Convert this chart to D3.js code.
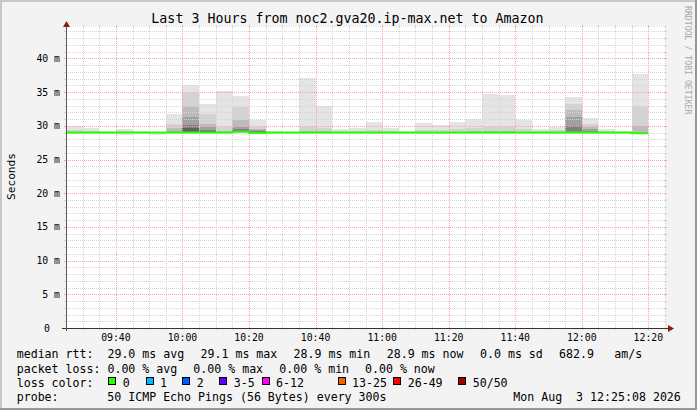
<!DOCTYPE html>
<html><head><meta charset="utf-8">
<script src="https://cdn.jsdelivr.net/npm/d3@7"></script>
<style>
body{margin:0;background:#fff;}
svg text{font-family:"DejaVu Sans Mono",monospace;}
</style>
</head><body>
<svg id="c" width="697" height="410"></svg>
<script>
// ---- data ----
const times = ["09:25","09:30","09:35","09:40","09:45","09:50","09:55","10:00","10:05","10:10",
  "10:15","10:20","10:25","10:30","10:35","10:40","10:45","10:50","10:55","11:00",
  "11:05","11:10","11:15","11:20","11:25","11:30","11:35","11:40","11:45","11:50",
  "11:55","12:00","12:05","12:10","12:15"];
const medianRtt = [29.0,29.0,29.0,29.0,29.0,29.0,29.0,29.0,29.0,29.0,
  29.1,28.95,29.0,29.0,29.0,29.0,29.0,29.0,29.0,29.0,
  29.0,29.0,29.0,29.0,29.0,29.0,29.0,29.0,29.0,29.0,
  29.0,29.0,29.0,29.0,28.9];
const pingMin = [28.85,28.85,28.85,28.6,28.85,28.6,28.85,28.8,28.85,28.85,
  28.9,28.8,28.85,28.85,28.85,28.85,28.85,28.85,28.85,28.85,
  28.85,28.85,28.85,28.85,28.85,28.85,28.85,28.85,28.85,28.85,
  28.85,28.85,28.85,28.85,28.8];
const pingMax = [30.0,29.6,29.3,29.5,29.2,29.05,31.8,36.0,33.3,35.1,
  34.4,30.9,29.2,29.1,37.1,33.0,29.5,29.6,30.5,29.6,
  29.2,30.4,30.1,30.5,31.0,34.7,34.5,30.9,29.5,29.8,
  34.2,31.1,29.5,29.3,37.7];
// upper edges of the darker smoke layers (layer 2 = light ... layer 6 = darkest)
const smoke2 = [29.4,29.2,29.1,29.2,29.1,29.0,30.3,34.8,31.8,29.8,
  32.8,29.8,29.1,29.0,29.8,29.6,29.2,29.3,29.4,29.3,
  29.1,29.4,29.4,29.5,29.6,29.8,29.8,29.5,29.2,29.4,
  33.3,30.3,29.2,29.1,33.0];
const smoke3 = [29.1,29.0,29.0,29.0,29.0,29.0,29.6,33.0,30.3,29.3,
  30.8,29.5,29.0,29.0,29.3,29.2,29.0,29.0,29.1,29.0,
  29.0,29.1,29.1,29.1,29.2,29.3,29.3,29.1,29.0,29.1,
  32.3,29.8,29.0,29.0,30.0];
const smoke4 = [29.0,29.0,29.0,29.0,29.0,29.0,29.2,31.3,29.8,29.1,
  29.8,29.4,29.0,29.0,29.1,29.0,29.0,29.0,29.0,29.0,
  29.0,29.0,29.0,29.0,29.0,29.1,29.1,29.0,29.0,29.0,
  31.3,29.5,29.0,29.0,29.0];
const smoke5 = [29.0,29.0,29.0,29.0,29.0,29.0,29.0,30.1,29.4,29.0,
  29.5,29.3,29.0,29.0,29.0,29.0,29.0,29.0,29.0,29.0,
  29.0,29.0,29.0,29.0,29.0,29.0,29.0,29.0,29.0,29.0,
  30.0,29.2,29.0,29.0,29.0];
const smoke6 = [29.0,29.0,29.0,29.0,29.0,29.0,29.0,29.6,29.2,29.0,
  29.3,29.0,29.0,29.0,29.0,29.0,29.0,29.0,29.0,29.0,
  29.0,29.0,29.0,29.0,29.0,29.0,29.0,29.0,29.0,29.0,
  29.0,29.0,29.0,29.0,29.0];
const yTickValues = [0,5,10,15,20,25,30,35,40];
const yTickLabels = ["0","5 m","10 m","15 m","20 m","25 m","30 m","35 m","40 m"];
const xTickLabels = ["09:40","10:00","10:20","10:40","11:00","11:20","11:40","12:00","12:20"];
const lossLabels = ["0","1","2","3-5","6-12","13-25","26-49","50/50"];
const lossColors = ["#26ff00","#00b8ff","#0059ff","#5e00ff","#ff00ff","#ff5e00","#ff0000","#a10000"];

// ---- setup ----
const svg = d3.select("#c");
const W = 697, H = 410;
const parse = s => { const [h,m] = s.split(":").map(Number); return new Date(2026,7,3,h,m); };
const step = 5*60*1000;
const tStart = parse("09:25"), tEnd = parse("12:25");
const x = d3.scaleTime().domain([tStart, tEnd]).range([66, 665]);
const y = d3.scaleLinear().domain([0, 44.6]).range([328, 27.4]);

// canvas + border
svg.append("rect").attr("width",W).attr("height",H).attr("fill","#f3f3f3");
svg.append("rect").attr("x",0).attr("y",0).attr("width",W).attr("height",2).attr("fill","#c8c8c8");
svg.append("rect").attr("x",0).attr("y",0).attr("width",2).attr("height",H).attr("fill","#c8c8c8");
svg.append("rect").attr("x",0).attr("y",H-2).attr("width",W).attr("height",2).attr("fill","#969696");
svg.append("rect").attr("x",W-2).attr("y",0).attr("width",2).attr("height",H).attr("fill","#969696");

// plot background
svg.append("rect").attr("x",x(tStart)).attr("y",y(44.6)).attr("width",x(tEnd)-x(tStart))
  .attr("height",y(0)-y(44.6)).attr("fill","#ffffff");

// smoke
const bars = times.map((t,i)=>({t0:parse(t), i}));
const smokeG = svg.append("g").attr("shape-rendering","crispEdges");
const layers = [
  {top: pingMax, bot: pingMin, color:"#e4e4e4"},
  {top: smoke2, bot: medianRtt, color:"#d3d3d3"},
  {top: smoke3, bot: medianRtt, color:"#bcbcbc"},
  {top: smoke4, bot: medianRtt, color:"#a0a0a0"},
  {top: smoke5, bot: medianRtt, color:"#808080"},
  {top: smoke6, bot: medianRtt, color:"#606060"}
];
layers.forEach(L=>{
  smokeG.selectAll(null).data(bars.filter(b=>L.top[b.i] > L.bot[b.i])).enter().append("rect")
    .attr("x", b=>x(b.t0))
    .attr("width", b=>x(new Date(+b.t0+step))-x(b.t0))
    .attr("y", b=>y(L.top[b.i]))
    .attr("height", b=>y(L.bot[b.i])-y(L.top[b.i]))
    .attr("fill", L.color);
});

// grid
const gridG = svg.append("g").attr("shape-rendering","crispEdges");
const x0 = x(tStart), x1 = x(tEnd), yTop = y(44.6), yBot = y(0);
const minorY = d3.range(1,45).filter(v=>v%5!==0);
const majorY = d3.range(5,45,5);
function hline(v, color){
  const yy = Math.round(y(v))+0.5;
  gridG.append("line").attr("x1",x0).attr("x2",x1).attr("y1",yy).attr("y2",yy)
    .attr("stroke",color).attr("stroke-dasharray","1,1");
  gridG.append("line").attr("x1",x0-2).attr("x2",x0).attr("y1",yy).attr("y2",yy).attr("stroke",color);
  gridG.append("line").attr("x1",x1).attr("x2",x1+2).attr("y1",yy).attr("y2",yy).attr("stroke",color);
}
minorY.forEach(v=>hline(v,"#d4d4d4"));
majorY.forEach(v=>hline(v,"#f2a6a6"));
const minorX = d3.timeMinute.every(5).range(new Date(+tStart+step), new Date(+tEnd+1));
minorX.forEach(t=>{
  const major = t.getMinutes()%20===0;
  const color = major ? "#f2a6a6" : "#d4d4d4";
  const xx = Math.round(x(t))+0.5;
  gridG.append("line").attr("x1",xx).attr("x2",xx).attr("y1",yTop).attr("y2",yBot)
    .attr("stroke",color).attr("stroke-dasharray","1,1");
  gridG.append("line").attr("x1",xx).attr("x2",xx).attr("y1",yBot).attr("y2",yBot+2).attr("stroke",color);
  gridG.append("line").attr("x1",xx).attr("x2",xx).attr("y1",yTop-2).attr("y2",yTop).attr("stroke",color);
});

// median line (step)
const linePts = bars.map(b=>({t:b.t0, v:medianRtt[b.i]}));
linePts.push({t:new Date(+bars[bars.length-1].t0+step), v:medianRtt[medianRtt.length-1]});
svg.append("path").datum(linePts)
  .attr("d", d3.line().x(d=>x(d.t)).y(d=>y(d.v)).curve(d3.curveStepAfter))
  .attr("fill","none").attr("stroke", lossColors[0]).attr("stroke-width",2);

// axes
const axG = svg.append("g").attr("shape-rendering","crispEdges");
axG.append("line").attr("x1",62).attr("x2",669).attr("y1",328.5).attr("y2",328.5).attr("stroke","#333");
axG.append("line").attr("x1",66.5).attr("x2",66.5).attr("y1",331).attr("y2",25).attr("stroke","#555");
svg.append("path").attr("d","M668,325 L674,328.5 L668,332 Z").attr("fill","#8b1a1a");
svg.append("path").attr("d","M63,27 L66.5,21 L70,27 Z").attr("fill","#8b1a1a");

// tick labels
svg.append("g").selectAll("text").data(yTickValues).enter().append("text")
  .attr("x", (d,i)=> d===0 ? 50 : 60)
  .attr("y", d=>y(d)+3.5)
  .attr("text-anchor","end").attr("font-size","9.8px").attr("fill","#000")
  .text((d,i)=>yTickLabels[i]);
svg.append("g").selectAll("text").data(xTickLabels).enter().append("text")
  .attr("x", d=>x(parse(d)))
  .attr("y", 340.5)
  .attr("text-anchor","middle").attr("font-size","9.8px").attr("fill","#000")
  .text(d=>d);

// title, axis label, watermark
svg.append("text").attr("x",347.5).attr("y",23).attr("text-anchor","middle")
  .attr("font-size","13.3px").attr("fill","#000")
  .text("Last 3 Hours from noc2.gva20.ip-max.net to Amazon");
svg.append("text").attr("transform","translate(14.5,176.5) rotate(-90)")
  .attr("text-anchor","middle").attr("font-size","11.2px").attr("fill","#000").text("Seconds");
svg.append("text").attr("transform","translate(684.5,6) rotate(90)")
  .attr("text-anchor","start").attr("font-size","8.2px").attr("fill","#a8a8a8")
  .text("RRDTOOL / TOBI OETIKER");

// legend
const fs = "11.6px";
function txt(xx, yy, s){
  svg.append("text").attr("x",xx).attr("y",yy).attr("font-size",fs).attr("fill","#000")
    .attr("xml:space","preserve").style("white-space","pre").text(s);
}
const r1 = 358, r2 = 372.5, r3 = 386.7, r4 = 400.7;
txt(16.7,r1,"median rtt:  29.0 ms avg");
txt(200.5,r1,"29.1 ms max");
txt(293.5,r1,"28.9 ms min");
txt(386.7,r1,"28.9 ms now");
txt(480,r1,"0.0 ms sd");
txt(559,r1,"682.9");
txt(614.3,r1,"am/s");
txt(16.7,r2,"packet loss: 0.00 % avg");
txt(193.3,r2,"0.00 % max");
txt(279.3,r2,"0.00 % min");
txt(365,r2,"0.00 % now");
txt(16.7,r3,"loss color:");
const boxX = [108.3,145.7,182.3,219.3,261.7,337.7,393.3,458.3];
lossLabels.forEach((l,i)=>{
  svg.append("rect").attr("x",Math.round(boxX[i])+0.5).attr("y",377.5).attr("width",7).attr("height",7)
    .attr("fill",lossColors[i]).attr("stroke","#000").attr("stroke-width",1);
  txt(boxX[i]+14.4, r3, l);
});
txt(16.7,r4,"probe:");
txt(107.3,r4,"50 ICMP Echo Pings (56 Bytes) every 300s");
txt(513.3,r4,"Mon Aug  3 12:25:08 2026");
</script>
</body></html>
